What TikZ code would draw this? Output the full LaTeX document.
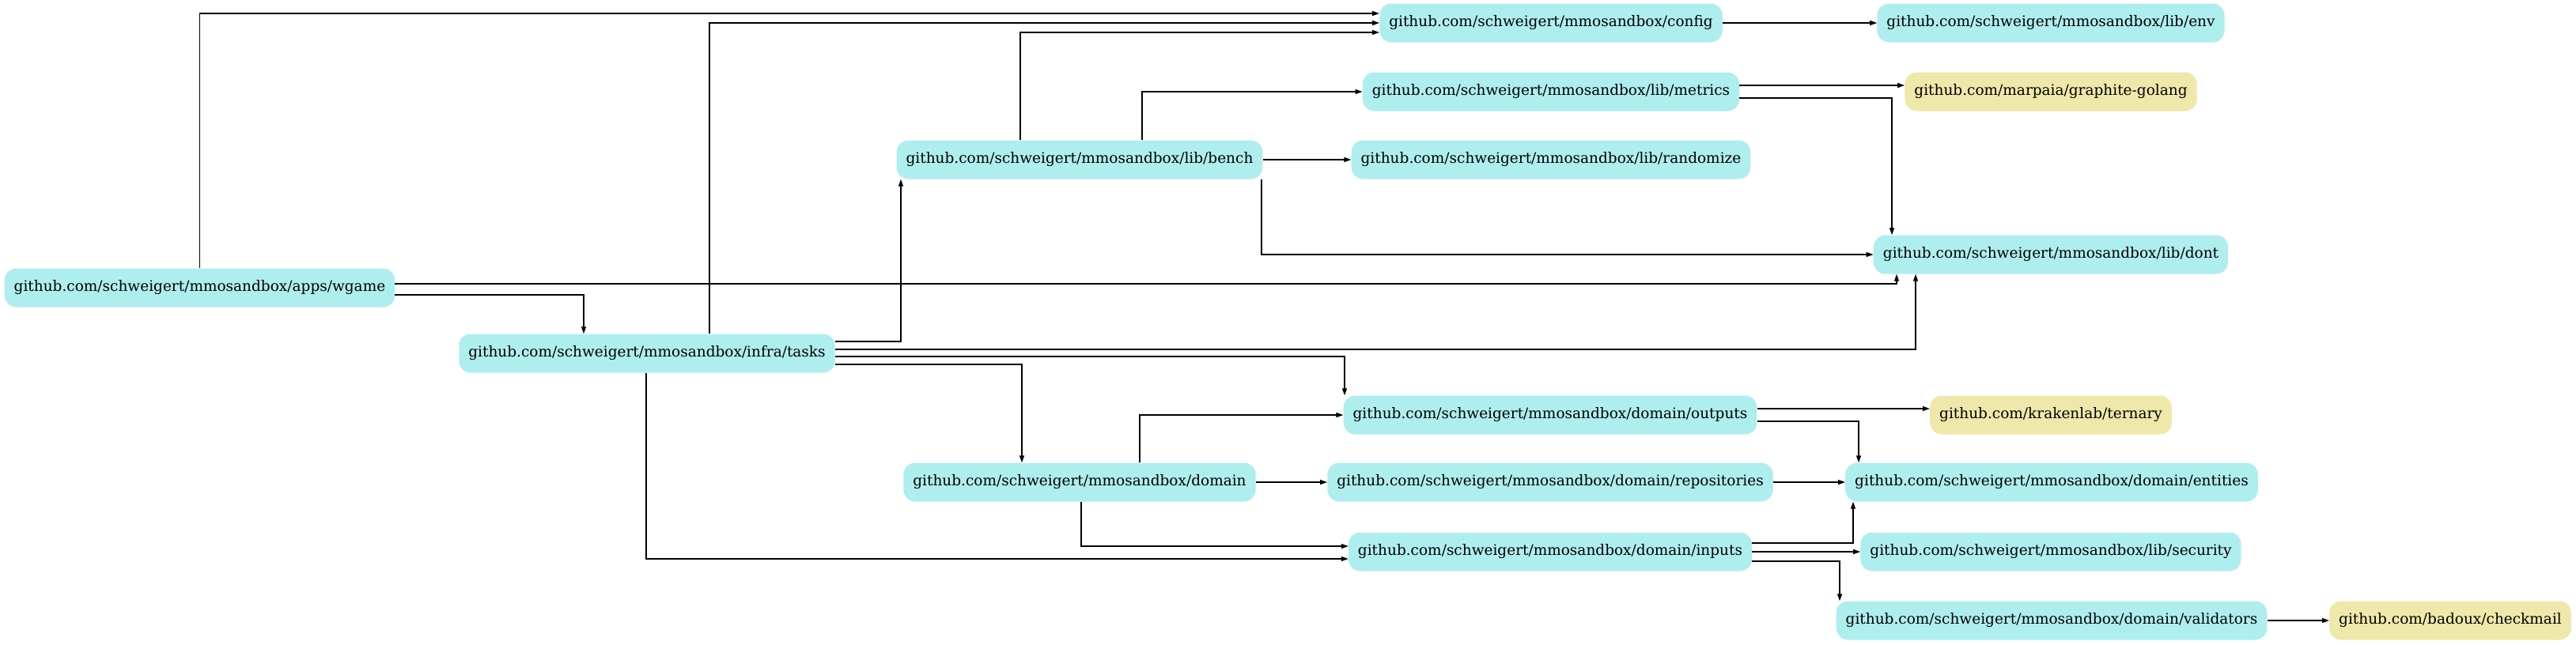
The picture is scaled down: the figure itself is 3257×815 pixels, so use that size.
\documentclass[tikz,border=0pt]{standalone}
\usepackage{fontspec}
\setmainfont{DejaVu Serif}
\usetikzlibrary{arrows.meta}
\definecolor{pkgcolor}{HTML}{AFEEEE}
\definecolor{extcolor}{HTML}{EEE8AA}

\begin{document}
\begin{tikzpicture}[x=1pt,y=-1pt]
    \useasboundingbox (0,0) rectangle (3257,815);

        \begin{scope}[every node/.style={rectangle,rounded corners=15pt,fill=pkgcolor,minimum height=49pt,inner xsep=12pt,font=\fontsize{18.5}{22}\selectfont}]
            \node (1) at (252.5,364) {github.com/schweigert/mmosandbox/apps/wgame};
            \node (2) at (818,447) {github.com/schweigert/mmosandbox/infra/tasks};
            \node (3) at (1365,202) {github.com/schweigert/mmosandbox/lib/bench};
            \node (4) at (1365,610) {github.com/schweigert/mmosandbox/domain};
            \node (5) at (1961,29) {github.com/schweigert/mmosandbox/config};
            \node (6) at (1961,116) {github.com/schweigert/mmosandbox/lib/metrics};
            \node (7) at (1961,202) {github.com/schweigert/mmosandbox/lib/randomize};
            \node (8) at (1960,525) {github.com/schweigert/mmosandbox/domain/outputs};
            \node (9) at (1960,610) {github.com/schweigert/mmosandbox/domain/repositories};
            \node (10) at (1960,698) {github.com/schweigert/mmosandbox/domain/inputs};
            \node (11) at (2593,29) {github.com/schweigert/mmosandbox/lib/env};
            \node[fill=extcolor] (12) at (2593,116) {github.com/marpaia/graphite-golang};
            \node (13) at (2593,322) {github.com/schweigert/mmosandbox/lib/dont};
            \node[fill=extcolor] (14) at (2593,525) {github.com/krakenlab/ternary};
            \node (15) at (2594,610) {github.com/schweigert/mmosandbox/domain/entities};
            \node (16) at (2593,698) {github.com/schweigert/mmosandbox/lib/security};
            \node (17) at (2594,785) {github.com/schweigert/mmosandbox/domain/validators};
            \node[fill=extcolor] (18) at (3098,785) {github.com/badoux/checkmail};
        \end{scope}

        \begin{scope}[->, >={Triangle[length=9pt,width=6pt]}, line width=1.2pt]
            \draw (1.north) |- ([yshift=12pt]5.west);
            \draw ([yshift=5pt]1.east) -| ([xshift=-195pt]13.south);
            \draw ([yshift=-9pt]1.east) -| ([xshift=-80pt]2.north);

            \draw ([xshift=79pt]2.north) |- (5.west);
            \draw ([yshift=15pt]2.east) -| ([xshift=-226pt]3.south);
            \draw ([yshift=5pt]2.east) -| ([xshift=-171pt]13.south);
            \draw ([yshift=-4pt]2.east) -| ([xshift=-260pt]8.north);
            \draw ([yshift=-14pt]2.east) -| ([xshift=-73pt]4.north);
            \draw ([xshift=-1pt]2.south) |- ([yshift=-9pt]10.west);

            \draw ([xshift=-75pt]3.north) |- ([yshift=-12pt]5.west);
            \draw ([xshift=79pt]3.north) |- (6.west);
            \draw (3) -- (7);
            \draw ([xshift=230pt]3.south) |- (13.west);

            \draw ([xshift=76pt]4.north) |- (8.west);
            \draw (4) -- (9);
            \draw ([xshift=2pt]4.south) |- ([yshift=7pt]10.west);

            \draw (5) -- (11);
            \draw ([yshift=8pt]6.east) -- ([yshift=8pt]12.west);
            \draw ([yshift=-8pt]6.east) -| ([xshift=-201pt]13.north);

            \draw ([yshift=8pt]8.east) -- ([yshift=8pt]14.west);
            \draw ([yshift=-8pt]8.east) -| ([xshift=-244pt]15.north);
            \draw (9) -- (15);
            \draw ([yshift=11pt]10.east) -| ([xshift=-251pt]15.south);
            \draw (10) -- (16);
            \draw ([yshift=-12pt]10.east) -| ([xshift=-268pt]17.north);
            \draw (17) -- (18);
        \end{scope}

\end{tikzpicture}
\end{document}
